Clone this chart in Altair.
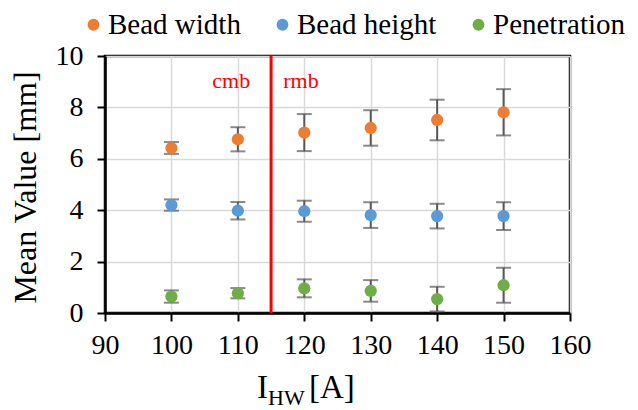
import altair as alt
import pandas as pd

currents = [100, 110, 120, 130, 140, 150]
series_names = ["Bead width", "Bead height", "Penetration"]
series_colors = ["#ED7D31", "#5B9BD5", "#70AD47"]

bead_width = [6.42, 6.76, 7.02, 7.20, 7.51, 7.81]
bead_width_err = [0.23, 0.47, 0.72, 0.69, 0.79, 0.90]
bead_height = [4.20, 3.98, 3.96, 3.81, 3.77, 3.77]
bead_height_err = [0.22, 0.34, 0.41, 0.50, 0.48, 0.54]
penetration = [0.64, 0.77, 0.96, 0.86, 0.54, 1.08]
penetration_err = [0.24, 0.20, 0.35, 0.42, 0.48, 0.68]

region_labels = ["cmb", "rmb"]
region_label_x = [109, 119.5]
region_label_y = [8.75, 8.75]
boundary_x = 115

x_ticks = [90, 100, 110, 120, 130, 140, 150, 160]
y_ticks = [0, 2, 4, 6, 8, 10]

rows = []
for name, vals, errs in [
    ("Bead width", bead_width, bead_width_err),
    ("Bead height", bead_height, bead_height_err),
    ("Penetration", penetration, penetration_err),
]:
    for c, v, e in zip(currents, vals, errs):
        rows.append({"I": c, "series": name, "mean": v, "lo": v - e, "hi": v + e})
df = pd.DataFrame(rows)

FONT = "Liberation Serif"
W, H = 465, 257

xscale = alt.Scale(domain=[90, 160], nice=False)
yscale = alt.Scale(domain=[0, 10], nice=False)

xaxis = alt.Axis(values=x_ticks, title=None, labelPadding=10)
yaxis = alt.Axis(values=y_ticks, title="Mean Value [mm]", labelPadding=14,
                 titleX=-70, titleY=131, titleBaseline="alphabetic", titleAngle=-90, titleAlign="center")

base = alt.Chart(df)

grid_layer = base.mark_point(opacity=0).encode(
    x=alt.X("I:Q", scale=xscale, axis=xaxis),
    y=alt.Y("mean:Q", scale=yscale, axis=yaxis),
)

err_rule = base.mark_rule(color="#595959", strokeWidth=2).encode(
    x="I:Q", y="lo:Q", y2="hi:Q"
)
cap_lo = base.mark_tick(color="#595959", orient="horizontal", size=15, thickness=2).encode(
    x="I:Q", y="lo:Q"
)
cap_hi = base.mark_tick(color="#595959", orient="horizontal", size=15, thickness=2).encode(
    x="I:Q", y="hi:Q"
)

dots = base.mark_circle(size=150, opacity=1).encode(
    x="I:Q",
    y="mean:Q",
    color=alt.Color("series:N", scale=alt.Scale(domain=series_names, range=series_colors),
                    sort=series_names,
                    legend=alt.Legend(title=None, orient="none", direction="horizontal",
                                      legendX=-26, legendY=-46)),
)

boundary = alt.Chart(pd.DataFrame({"x": [boundary_x]})).mark_rule(color="#FF0000", strokeWidth=3).encode(
    x="x:Q", y=alt.datum(0), y2=alt.datum(10)
)

labels_df = pd.DataFrame({"t": region_labels, "x": region_label_x, "y": region_label_y})
region_text = alt.Chart(labels_df).mark_text(font=FONT, fontSize=22, color="#FF0000",
                                             baseline="alphabetic", align="center").encode(
    x="x:Q", y="y:Q", text="t:N"
)

t1 = alt.Chart(pd.DataFrame({"t": ["I"]})).mark_text(font=FONT, fontSize=33, color="black",
                                                    align="left", baseline="alphabetic").encode(
    x=alt.value(152), y=alt.value(342), text="t:N")
t2 = alt.Chart(pd.DataFrame({"t": ["HW"]})).mark_text(font=FONT, fontSize=22, color="black",
                                                     align="left", baseline="alphabetic").encode(
    x=alt.value(163), y=alt.value(349), text="t:N")
t3 = alt.Chart(pd.DataFrame({"t": ["[A]"]})).mark_text(font=FONT, fontSize=33, color="black",
                                                      align="left", baseline="alphabetic").encode(
    x=alt.value(204), y=alt.value(342), text="t:N")

chart = alt.layer(grid_layer, boundary, err_rule, cap_lo, cap_hi, dots, region_text, t1, t2, t3).properties(
    width=W, height=H,
    autosize=alt.AutoSizeParams(type="none"),
    padding={"left": 97, "top": 48, "right": 60, "bottom": 97},
    background="white",
).configure_view(
    stroke="black", strokeWidth=2.5
).configure_axis(
    grid=True, gridColor="#d9d9d9", gridWidth=1.5,
    domainColor="black", domainWidth=2.5, tickColor="black", tickWidth=2, tickSize=8,
    labelFont=FONT, labelFontSize=28, labelColor="black", labelFlush=False,
    titleFont=FONT, titleFontSize=32, titleFontWeight="normal", titleColor="black",
).configure_legend(
    symbolType="circle", symbolSize=140, symbolStrokeWidth=0,
    labelFont=FONT, labelFontSize=29, labelColor="black",
    labelOffset=0, columnPadding=27, labelLimit=300, padding=0,
)

chart.save("out.html", embed_options={"renderer": "svg", "actions": False})
